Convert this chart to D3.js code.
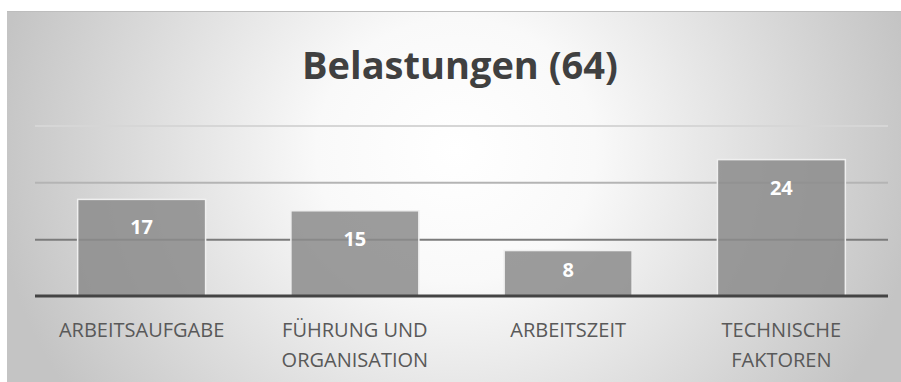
<!DOCTYPE html>
<html>
<head>
<meta charset="utf-8">
<script src="https://cdn.jsdelivr.net/npm/d3@7"></script>
<style>
  html, body { margin: 0; padding: 0; background: #ffffff; }
  svg { display: block; }
</style>
</head>
<body>
<svg id="chart" width="901" height="382"></svg>
<script>
// Chart data
const title = "Belastungen (64)";
const categories = ["ARBEITSAUFGABE", "FÜHRUNG UND ORGANISATION", "ARBEITSZEIT", "TECHNISCHE FAKTOREN"];
const values = [17, 15, 8, 24];
const gridValues = [10, 20, 30];

const svg = d3.select("#chart");
const W = 901, H = 382;
const frame = { x: 7, y: 11, w: W - 7, h: H - 11 };
const plot = { left: 35, right: 888, top: 125.5, bottom: 296 };

// Soft radial backdrop, brightest behind the title
const defs = svg.append("defs");
const grad = defs.append("radialGradient")
  .attr("id", "bg")
  .attr("gradientUnits", "userSpaceOnUse")
  .attr("cx", 0).attr("cy", 0).attr("r", 1)
  .attr("gradientTransform", "translate(456,150) scale(465,440)");
grad.append("stop").attr("offset", "0").attr("stop-color", "#ffffff");
grad.append("stop").attr("offset", "0.3").attr("stop-color", "#f9f9f9");
grad.append("stop").attr("offset", "1").attr("stop-color", "#c4c4c4");

svg.append("rect")
  .attr("x", frame.x).attr("y", frame.y)
  .attr("width", frame.w).attr("height", frame.h)
  .attr("fill", "url(#bg)");
svg.append("line")
  .attr("x1", frame.x).attr("x2", W)
  .attr("y1", frame.y + 0.5).attr("y2", frame.y + 0.5)
  .attr("stroke", "#bdbdbd").attr("stroke-width", 1);

// Scales
const x = d3.scaleBand()
  .domain(categories)
  .range([plot.left, plot.right])
  .paddingInner(0.4)
  .paddingOuter(0.2);
const y = d3.scaleLinear()
  .domain([0, 30])
  .range([plot.bottom, plot.top]);

// Title
svg.append("text")
  .attr("x", 460).attr("y", 79)
  .attr("text-anchor", "middle")
  .attr("font-family", "'Open Sans', sans-serif")
  .attr("font-weight", 700)
  .attr("font-size", 38)
  .attr("fill", "#404040")
  .text(title);

// Gridlines
const gridColor = d3.scaleOrdinal().domain(gridValues).range(["#7b7b7b", "#b4b4b4", "#d6d6d6"]);
const gridAxis = d3.axisLeft(y)
  .tickValues(gridValues)
  .tickSize(-(plot.right - plot.left))
  .tickFormat("");
const gridG = svg.append("g")
  .attr("transform", `translate(${plot.left},0)`)
  .call(gridAxis);
gridG.select(".domain").remove();
gridG.selectAll(".tick line")
  .attr("stroke", d => gridColor(d))
  .attr("stroke-width", 2);

// Bars
svg.append("g").selectAll("rect")
  .data(values)
  .join("rect")
  .attr("x", (d, i) => x(categories[i]))
  .attr("y", d => y(d))
  .attr("width", x.bandwidth())
  .attr("height", d => y(0) - y(d))
  .attr("fill", "#8c8c8c")
  .attr("fill-opacity", 0.86)
  .attr("stroke", "#efefef")
  .attr("stroke-width", 1.5);

// Value labels, inside the top of each bar
svg.append("g").selectAll("text")
  .data(values)
  .join("text")
  .attr("x", (d, i) => x(categories[i]) + x.bandwidth() / 2)
  .attr("y", d => Math.min(y(d) + 35, (y(d) + y(0)) / 2 + 4))
  .attr("text-anchor", "middle")
  .attr("font-family", "'Open Sans', sans-serif")
  .attr("font-weight", 700)
  .attr("font-size", 20)
  .attr("fill", "#ffffff")
  .text(d => d);

// Baseline axis with wrapped category labels
const xAxis = d3.axisBottom(x).tickSize(0).tickPadding(0).tickFormat("");
const axisG = svg.append("g")
  .attr("transform", `translate(0,${plot.bottom})`)
  .call(xAxis);
axisG.select(".domain")
  .attr("stroke", "#444444")
  .attr("stroke-width", 3)
  .attr("d", `M${plot.left},0H${plot.right}`);

const labelG = svg.append("g")
  .attr("font-family", "'Open Sans', sans-serif")
  .attr("font-size", 20)
  .attr("fill", "#595959")
  .attr("text-anchor", "middle");

const maxLabelWidth = 190;
categories.forEach(cat => {
  const cx = x(cat) + x.bandwidth() / 2;
  const t = labelG.append("text").attr("x", cx).attr("y", 336.5);
  const words = cat.split(" ");
  let line = [];
  let tspan = t.append("tspan").attr("x", cx).attr("dy", 0);
  words.forEach(w => {
    line.push(w);
    tspan.text(line.join(" "));
    if (tspan.node().getComputedTextLength() > maxLabelWidth && line.length > 1) {
      line.pop();
      tspan.text(line.join(" "));
      line = [w];
      tspan = t.append("tspan").attr("x", cx).attr("dy", 30.5).text(w);
    }
  });
});
</script>
</body>
</html>
